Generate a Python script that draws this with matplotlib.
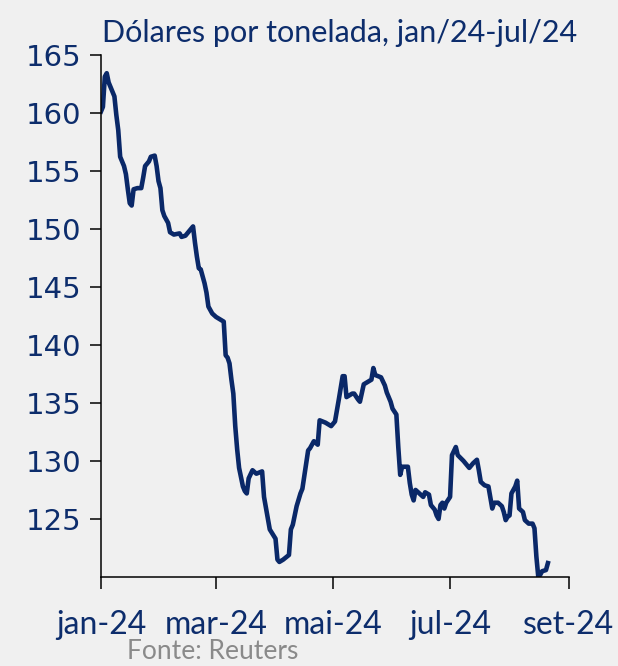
import matplotlib
matplotlib.use("Agg")
import matplotlib.pyplot as plt
import pandas as pd

# Iron ore price, USD per tonne
dates = [
    "2024-01-01", "2024-01-02", "2024-01-03", "2024-01-04", "2024-01-05", "2024-01-07",
    "2024-01-08", "2024-01-09", "2024-01-10", "2024-01-11", "2024-01-13", "2024-01-14",
    "2024-01-15", "2024-01-16", "2024-01-17", "2024-01-18", "2024-01-20", "2024-01-22",
    "2024-01-23", "2024-01-24", "2024-01-26", "2024-01-27", "2024-01-29", "2024-01-30",
    "2024-01-31", "2024-02-01", "2024-02-02", "2024-02-03", "2024-02-05", "2024-02-06",
    "2024-02-08", "2024-02-11", "2024-02-12", "2024-02-14", "2024-02-16", "2024-02-18",
    "2024-02-19", "2024-02-20", "2024-02-21", "2024-02-22", "2024-02-24", "2024-02-25",
    "2024-02-26", "2024-02-28", "2024-03-01", "2024-03-03", "2024-03-05", "2024-03-06",
    "2024-03-07", "2024-03-08", "2024-03-09", "2024-03-10", "2024-03-11", "2024-03-12",
    "2024-03-13", "2024-03-15", "2024-03-16", "2024-03-17", "2024-03-18", "2024-03-20",
    "2024-03-22", "2024-03-25", "2024-03-26", "2024-03-29", "2024-04-01", "2024-04-02",
    "2024-04-03", "2024-04-05", "2024-04-08", "2024-04-09", "2024-04-10", "2024-04-12",
    "2024-04-14", "2024-04-15", "2024-04-18", "2024-04-19", "2024-04-21", "2024-04-23",
    "2024-04-24", "2024-04-27", "2024-04-30", "2024-05-02", "2024-05-04", "2024-05-06",
    "2024-05-07", "2024-05-08", "2024-05-11", "2024-05-12", "2024-05-14", "2024-05-15",
    "2024-05-17", "2024-05-19", "2024-05-21", "2024-05-22", "2024-05-23", "2024-05-26",
    "2024-05-28", "2024-05-29", "2024-05-31", "2024-06-01", "2024-06-03", "2024-06-04",
    "2024-06-05", "2024-06-06", "2024-06-09", "2024-06-10", "2024-06-11", "2024-06-12",
    "2024-06-13", "2024-06-15", "2024-06-17", "2024-06-18", "2024-06-20", "2024-06-21",
    "2024-06-23", "2024-06-24", "2024-06-25", "2024-06-26", "2024-06-27", "2024-06-28",
    "2024-06-29", "2024-07-01", "2024-07-02", "2024-07-04", "2024-07-05", "2024-07-08",
    "2024-07-11", "2024-07-13", "2024-07-15", "2024-07-16", "2024-07-17", "2024-07-19",
    "2024-07-21", "2024-07-23", "2024-07-24", "2024-07-26", "2024-07-28", "2024-07-29",
    "2024-07-30", "2024-07-31", "2024-08-01", "2024-08-02", "2024-08-04", "2024-08-05",
    "2024-08-06", "2024-08-08", "2024-08-09", "2024-08-11", "2024-08-13", "2024-08-14",
    "2024-08-15", "2024-08-16", "2024-08-17", "2024-08-18", "2024-08-20", "2024-08-21",
]
prices = [
    160.1, 160.5, 163.1, 163.4, 162.6, 161.8,
    161.4, 159.8, 158.5, 156.2, 155.4, 154.7,
    153.4, 152.2, 152.0, 153.4, 153.5, 153.5,
    154.4, 155.4, 155.8, 156.2, 156.3, 155.4,
    154.1, 153.5, 151.6, 151.1, 150.5, 149.7,
    149.5, 149.6, 149.3, 149.4, 149.8, 150.2,
    148.8, 147.6, 146.6, 146.5, 145.3, 144.5,
    143.3, 142.7, 142.4, 142.2, 142.0, 139.1,
    138.9, 138.4, 137.0, 135.8, 133.0, 131.0,
    129.4, 127.8, 127.4, 127.2, 128.5, 129.2,
    128.9, 129.1, 126.9, 124.1, 123.3, 121.5,
    121.3, 121.5, 121.9, 124.1, 124.5, 126.1,
    127.2, 127.6, 130.9, 131.1, 131.7, 131.4,
    133.5, 133.3, 133.0, 133.4, 135.3, 137.3,
    137.3, 135.5, 135.8, 135.8, 135.3, 135.1,
    136.6, 136.8, 137.0, 138.0, 137.4, 137.2,
    136.5, 135.9, 135.1, 134.5, 134.0, 131.2,
    128.8, 129.5, 129.5, 128.1, 127.1, 126.6,
    127.5, 127.2, 126.9, 127.3, 127.1, 126.2,
    125.8, 125.3, 125.0, 126.2, 126.4, 125.9,
    126.4, 126.9, 130.5, 131.2, 130.5, 130.0,
    129.4, 129.8, 130.1, 129.2, 128.2, 127.9,
    127.8, 125.9, 126.4, 126.4, 126.1, 125.6,
    124.9, 125.2, 125.3, 127.2, 127.8, 128.3,
    125.9, 125.6, 124.9, 124.6, 124.6, 124.2,
    121.75, 120.0, 120.2, 120.5, 120.6, 121.2,
]
tick_dates = ["2024-01-01", "2024-03-01", "2024-05-01", "2024-07-01", "2024-09-01"]
tick_labels = ["jan-24", "mar-24", "mai-24", "jul-24", "set-24"]
y_ticks = [125, 130, 135, 140, 145, 150, 155, 160, 165]

NAVY = "#0a2868"
TEXT = "#0d2d6c"
BG = "#f0f0f0"
NARROW = ["Lato", "DejaVu Sans"]

fig = plt.figure(figsize=(6.18, 6.66), dpi=100, facecolor=BG)
ax = fig.add_axes([0.1634, 0.1336, 0.7573, 0.7844], facecolor=BG)

ax.plot(pd.to_datetime(dates), prices, color=NAVY, linewidth=3.3, solid_joinstyle="round")

ax.set_xlim(pd.Timestamp("2024-01-01"), pd.Timestamp("2024-09-01"))
ax.set_ylim(120, 165)
ax.set_yticks(y_ticks)
ax.set_xticks(pd.to_datetime(tick_dates))
ax.set_xticklabels(tick_labels, family=NARROW, fontsize=23, color=TEXT)
ax.tick_params(axis="y", labelsize=21, labelcolor=TEXT, length=8, width=1.1, pad=6)
ax.tick_params(axis="x", length=8.5, width=1.1, pad=15)

for side in ("top", "right"):
    ax.spines[side].set_visible(False)
for side in ("left", "bottom"):
    ax.spines[side].set_linewidth(1.1)
    ax.spines[side].set_color("black")

fig.text(340 / 618, 1 - 42 / 666, "Dólares por tonelada, jan/24-jul/24",
         family=NARROW, fontsize=22, color=TEXT, ha="center", va="baseline")
fig.text(127 / 618, 1 - 659 / 666, "Fonte: Reuters",
         family=NARROW, fontsize=19, color="#8a8a8a", ha="left", va="baseline")

fig.savefig("out.png", dpi=100, facecolor=BG)
